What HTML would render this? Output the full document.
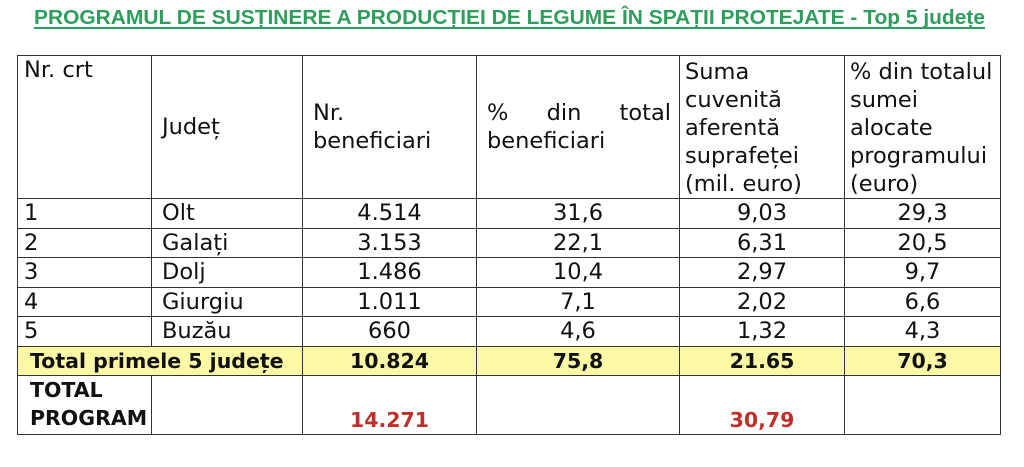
<!DOCTYPE html>
<html><head><meta charset="utf-8"><style>
body{margin:0;width:1024px;height:467px;background:#fff;position:relative;overflow:hidden;font-family:"DejaVu Sans","Liberation Sans",sans-serif;color:#111}
#t{position:absolute;left:17px;top:55px;border-collapse:collapse;table-layout:fixed}
#t td{border:1.5px solid #333;padding:0 0 0 6px;font-size:22.5px;line-height:28px;vertical-align:top;overflow:hidden;white-space:nowrap}
.c{text-align:center;padding:0!important}
.r td{line-height:28px}
.y td{background:#fbf8a6;font-weight:bold;font-size:20.5px!important}
.red{color:#c0302a;font-weight:bold;font-size:20.5px!important}
.b{font-weight:bold;font-size:20.5px!important}
</style></head><body>
<svg style="position:absolute;left:0;top:0" width="1024" height="40"><text x="34" y="24" textLength="951" lengthAdjust="spacingAndGlyphs" font-family="Liberation Sans, sans-serif" font-weight="bold" font-size="20" fill="#2f9e5c">PROGRAMUL DE SUSȚINERE A PRODUCȚIEI DE LEGUME ÎN SPAȚII PROTEJATE - Top 5 județe</text><rect x="34" y="27" width="951" height="2" fill="#2f9e5c"/></svg>
<table id="t">
<colgroup><col style="width:134px"><col style="width:151px"><col style="width:174px"><col style="width:203px"><col style="width:165px"><col style="width:156px"></colgroup>
<tr style="height:143px"><td>Nr. crt</td><td style="vertical-align:middle;padding-left:10px">Județ</td><td style="vertical-align:middle;padding-left:10px">Nr.<br>beneficiari</td><td style="vertical-align:middle;padding-left:10px"><div style="display:flex;justify-content:space-between;padding-right:8px"><span>%</span><span>din</span><span>total</span></div>beneficiari</td><td style="padding-left:5px;padding-top:2px">Suma<br>cuvenită<br>aferentă<br>suprafeței<br>(mil. euro)</td><td style="padding-left:5px;padding-top:2px">% din totalul<br>sumei<br>alocate<br>programului<br>(euro)</td></tr>
<tr class="r" style="height:30px"><td>1</td><td style="padding-left:10px">Olt</td><td class="c">4.514</td><td class="c">31,6</td><td class="c">9,03</td><td class="c">29,3</td></tr>
<tr class="r" style="height:29px"><td>2</td><td style="padding-left:10px">Galați</td><td class="c">3.153</td><td class="c">22,1</td><td class="c">6,31</td><td class="c">20,5</td></tr>
<tr class="r" style="height:30px"><td>3</td><td style="padding-left:10px">Dolj</td><td class="c">1.486</td><td class="c">10,4</td><td class="c">2,97</td><td class="c">9,7</td></tr>
<tr class="r" style="height:29px"><td>4</td><td style="padding-left:10px">Giurgiu</td><td class="c">1.011</td><td class="c">7,1</td><td class="c">2,02</td><td class="c">6,6</td></tr>
<tr class="r" style="height:30px"><td>5</td><td style="padding-left:10px">Buzău</td><td class="c">660</td><td class="c">4,6</td><td class="c">1,32</td><td class="c">4,3</td></tr>
<tr class="r y" style="height:29px"><td colspan="2" style="padding-left:12px">Total primele 5 județe</td><td class="c">10.824</td><td class="c">75,8</td><td class="c">21.65</td><td class="c">70,3</td></tr>
<tr style="height:59px"><td class="b" style="padding-left:12px">TOTAL<br>PROGRAM</td><td></td><td class="c red" style="vertical-align:bottom">14.271</td><td></td><td class="c red" style="vertical-align:bottom">30,79</td><td></td></tr>
</table>
</body></html>
